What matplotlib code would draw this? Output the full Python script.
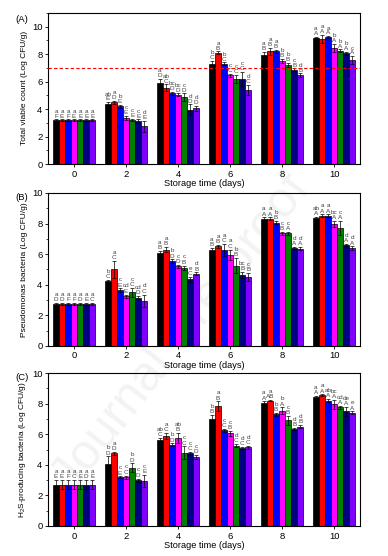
import numpy as np
import matplotlib
matplotlib.use("Agg")
import matplotlib.pyplot as plt
from matplotlib.ticker import MultipleLocator

days = ["0", "2", "4", "6", "8", "10"]
colors = ["#000000", "#ff0000", "#0000ff", "#ff00ff", "#008000", "#000080", "#8000ff"]

# Panel A: Total viable count (rows = treatments, cols = days)
tvc = [
    [3.2, 4.4, 5.9, 7.3, 7.95, 9.2],
    [3.2, 4.5, 5.55, 8.1, 8.2, 9.1],
    [3.2, 4.2, 5.15, 7.3, 8.2, 9.25],
    [3.2, 3.35, 5.05, 6.45, 7.5, 8.45],
    [3.2, 3.2, 4.85, 6.2, 7.2, 8.25],
    [3.2, 3.1, 3.95, 6.2, 6.85, 8.05],
    [3.2, 2.75, 4.05, 5.4, 6.45, 7.55],
]
tvc_err = [
    [0.05, 0.1, 0.3, 0.2, 0.2, 0.05],
    [0.05, 0.1, 0.25, 0.1, 0.25, 0.3],
    [0.05, 0.1, 0.1, 0.1, 0.1, 0.05],
    [0.05, 0.15, 0.1, 0.1, 0.15, 0.3],
    [0.05, 0.1, 0.3, 0.3, 0.15, 0.1],
    [0.05, 0.15, 0.4, 0.5, 0.1, 0.1],
    [0.05, 0.4, 0.2, 0.35, 0.15, 0.3],
]
tvc_lo = [
    ["a", "ab", "a", "b", "a", "a"],
    ["a", "a", "ab", "a", "a", "a"],
    ["a", "b", "bc", "b", "a", "a"],
    ["a", "c", "bc", "c", "b", "b"],
    ["a", "c", "c", "c", "b", "b"],
    ["a", "c", "d", "c", "c", "b"],
    ["a", "d", "d", "d", "d", "c"],
]
tvc_up = [
    ["F", "E", "D", "C", "B", "A"],
    ["E", "D", "C", "B", "B", "A"],
    ["F", "E", "D", "C", "B", "A"],
    ["E", "E", "D", "C", "B", "A"],
    ["E", "E", "D", "C", "B", "A"],
    ["E", "E", "D", "C", "B", "A"],
    ["E", "E", "D", "C", "B", "A"],
]

# Panel B: Pseudomonas bacteria
pse = [
    [2.75, 4.25, 6.1, 6.3, 8.3, 8.35],
    [2.75, 5.0, 6.3, 6.5, 8.3, 8.5],
    [2.75, 3.65, 5.55, 6.25, 8.05, 8.5],
    [2.75, 3.25, 5.2, 5.95, 7.35, 7.95],
    [2.75, 3.5, 5.1, 5.25, 7.35, 7.7],
    [2.75, 3.15, 4.35, 4.65, 6.4, 6.6],
    [2.75, 2.95, 4.7, 4.5, 6.35, 6.4],
]
pse_err = [
    [0.05, 0.05, 0.1, 0.1, 0.1, 0.1],
    [0.05, 0.55, 0.15, 0.1, 0.1, 0.1],
    [0.05, 0.1, 0.1, 0.4, 0.1, 0.1],
    [0.05, 0.1, 0.1, 0.35, 0.1, 0.2],
    [0.05, 0.3, 0.15, 0.5, 0.1, 0.45],
    [0.05, 0.1, 0.15, 0.2, 0.05, 0.05],
    [0.05, 0.4, 0.1, 0.25, 0.1, 0.1],
]
pse_lo = [
    ["a", "b", "a", "a", "a", "ab"],
    ["a", "a", "a", "a", "a", "a"],
    ["a", "c", "b", "a", "b", "a"],
    ["a", "cd", "c", "a", "c", "bc"],
    ["a", "c", "c", "b", "c", "c"],
    ["a", "cd", "e", "bc", "d", "d"],
    ["a", "d", "d", "c", "d", "d"],
]
pse_up = [
    ["D", "C", "B", "B", "A", "A"],
    ["D", "C", "B", "B", "A", "A"],
    ["F", "E", "D", "C", "B", "A"],
    ["F", "E", "D", "C", "B", "A"],
    ["D", "C", "B", "B", "A", "A"],
    ["E", "D", "C", "B", "A", "A"],
    ["C", "C", "B", "B", "A", "A"],
]

# Panel C: H2S-producing bacteria
h2s = [
    [2.7, 4.05, 5.65, 7.0, 8.05, 8.45],
    [2.7, 4.75, 5.9, 7.85, 8.2, 8.55],
    [2.7, 3.2, 5.3, 6.25, 7.3, 8.2],
    [2.7, 3.2, 5.75, 6.05, 7.55, 7.95],
    [2.7, 3.8, 4.8, 5.25, 6.9, 7.75],
    [2.7, 3.0, 4.75, 5.1, 6.35, 7.5],
    [2.7, 2.95, 4.5, 5.15, 6.5, 7.4],
]
h2s_err = [
    [0.3, 0.5, 0.1, 0.25, 0.1, 0.05],
    [0.3, 0.1, 0.2, 0.3, 0.05, 0.05],
    [0.3, 0.05, 0.1, 0.1, 0.1, 0.1],
    [0.3, 0.1, 0.35, 0.15, 0.2, 0.3],
    [0.3, 0.3, 0.4, 0.1, 0.3, 0.1],
    [0.3, 0.1, 0.1, 0.05, 0.05, 0.3],
    [0.3, 0.4, 0.15, 0.1, 0.1, 0.1],
]
h2s_lo = [
    ["a", "b", "ab", "b", "a", "a"],
    ["a", "a", "a", "a", "a", "a"],
    ["a", "c", "b", "c", "b", "ab"],
    ["a", "c", "ab", "c", "b", "bc"],
    ["a", "b", "c", "d", "c", "cd"],
    ["a", "c", "c", "d", "d", "de"],
    ["a", "c", "c", "d", "d", "e"],
]
h2s_up = [
    ["E", "D", "C", "B", "A", "A"],
    ["E", "D", "C", "B", "AB", "A"],
    ["F", "E", "D", "C", "B", "A"],
    ["C", "C", "B", "B", "A", "A"],
    ["E", "D", "C", "C", "B", "A"],
    ["D", "D", "C", "C", "B", "A"],
    ["E", "E", "D", "C", "B", "A"],
]

panels = [
    ("(A)", "Total viable count (Log CFU/g)", tvc, tvc_err, tvc_lo, tvc_up, 11),
    ("(B)", "Pseudomonas bacteria (Log CFU/g)", pse, pse_err, pse_lo, pse_up, 10),
    ("(C)", "H$_2$S-producing bacteria (Log CFU/g)", h2s, h2s_err, h2s_lo, h2s_up, 10),
]

plt.rcParams['font.family'] = ['Liberation Sans', 'DejaVu Sans']
plt.rcParams['mathtext.fontset'] = 'custom'
plt.rcParams['mathtext.rm'] = 'Liberation Sans'
plt.rcParams['mathtext.default'] = 'regular'
fig = plt.figure(figsize=(3.88, 5.56), dpi=100)
fig.patch.set_facecolor("white")

fig.text(0.47, 0.40, "Journal Pre-proof", rotation=52, fontsize=36,
         color="#f3f3f3", ha="center", va="center", zorder=-5)

rects = [
    [0.124, 0.705, 0.804, 0.272],
    [0.124, 0.378, 0.804, 0.275],
    [0.124, 0.054, 0.804, 0.275],
]

n = len(colors)
bw = 0.116
x = np.arange(len(days))
for (lab, ylab, data, err, lo, up, ymax), rect in zip(panels, rects):
    ax = fig.add_axes(rect)
    ax.patch.set_alpha(0)
    for i in range(n):
        xi = x + (i - (n - 1) / 2) * bw
        ax.bar(xi, data[i], width=bw, color=colors[i], edgecolor="black",
               linewidth=0.5, yerr=err[i], ecolor="black",
               error_kw=dict(elinewidth=0.5, capsize=1.2, capthick=0.5), zorder=2)
        for j in range(len(days)):
            top = data[i][j] + err[i][j]
            ax.text(xi[j], top + 0.05, up[i][j], fontsize=4.6, ha="center",
                    va="bottom", color="#444444")
            ax.text(xi[j], top + 0.40, lo[i][j], fontsize=4.6, ha="center",
                    va="bottom", color="#444444")
    if lab == "(A)":
        ax.axhline(7, color="red", linestyle=(0, (3, 2)), linewidth=0.8, zorder=3)
    ax.set_xlim(-0.5, 5.5)
    ax.set_ylim(0, ymax)
    ax.set_xticks(x)
    ax.set_xticklabels(days)
    ax.yaxis.set_major_locator(MultipleLocator(2))
    ax.yaxis.set_minor_locator(MultipleLocator(1))
    ax.tick_params(axis="both", labelsize=6.8, length=2.5, width=0.6, pad=1.5)
    ax.tick_params(axis="y", which="minor", length=1.5, width=0.5)
    ax.set_xlabel("Storage time (days)", fontsize=6.6, labelpad=0.5)
    ax.set_ylabel(ylab, fontsize=6.0, labelpad=3)
    for s in ax.spines.values():
        s.set_linewidth(0.8)
    ax.text(-0.085, 1.0 - (0.015 if lab == "(A)" else 0.0), lab, transform=ax.transAxes,
            fontsize=6.8, ha="center", va="top")

fig.savefig("out.png", dpi=100)
